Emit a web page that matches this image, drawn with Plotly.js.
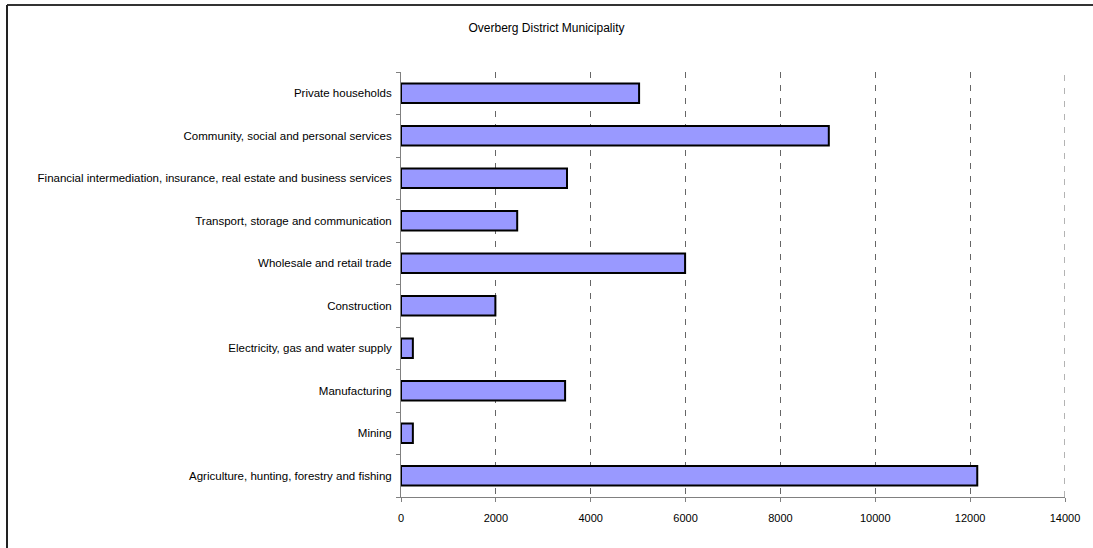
<!DOCTYPE html>
<html>
<head>
<meta charset="utf-8">
<script src="https://cdn.plot.ly/plotly-3.0.1.min.js"></script>
<style>html,body{margin:0;padding:0;background:#fff;}#chart{width:1093px;height:548px;}</style>
</head>
<body>
<div id="chart"></div>
<script>
const categories = [
  "Agriculture, hunting, forestry and fishing",
  "Mining",
  "Manufacturing",
  "Electricity, gas and water supply",
  "Construction",
  "Wholesale and retail trade",
  "Transport, storage and communication",
  "Financial intermediation, insurance, real estate and business services",
  "Community, social and personal services",
  "Private households"
];
const values = [12150, 250, 3460, 250, 1990, 5990, 2450, 3500, 9020, 5020];
const xTicks = [0, 2000, 4000, 6000, 8000, 10000, 12000, 14000];
const chartTitle = "Overberg District Municipality";

const fam = "'Liberation Sans', Arial, sans-serif";

const trace = {
  type: "bar",
  orientation: "h",
  y: categories,
  x: values,
  width: 0.46,
  marker: {color: "#9999FF", line: {color: "#000", width: 2}},
  hoverinfo: "x+y"
};

const L = 401, R = 28, T = 72, B = 51, W = 1093, H = 548;
const pw = W - L - R, ph = H - T - B;
const px = v => (v - L) / pw;
const py = v => (H - B - v) / ph;
const xMax = xTicks[xTicks.length - 1];

const layout = {
  width: W, height: H,
  margin: {l: L, r: R, t: T, b: B, pad: 0},
  paper_bgcolor: "#fff", plot_bgcolor: "#fff",
  font: {family: fam, size: 11, color: "#000"},
  showlegend: false,
  title: {text: chartTitle, x: 0.5, xref: "container", xanchor: "center",
          y: 1 - 28 / H, yref: "container", yanchor: "middle",
          font: {family: fam, size: 12, color: "#000"}},
  xaxis: {
    range: [0, xMax], tickvals: xTicks, ticktext: xTicks.map(String),
    showgrid: true, gridcolor: "#666", griddash: "6px,7px", gridwidth: 1,
    zeroline: false, showline: true, linecolor: "#808080", linewidth: 1,
    ticks: "outside", ticklen: 4, tickcolor: "#808080",
    tickfont: {family: fam, size: 11, color: "#000"}, ticklabelstandoff: 7,
    fixedrange: true
  },
  yaxis: {
    type: "category", categoryorder: "array", categoryarray: categories,
    showgrid: false, zeroline: false, showline: true, linecolor: "#808080", linewidth: 1,
    ticks: "outside", ticklen: 4, tickcolor: "#808080", tickson: "boundaries",
    tickfont: {family: fam, size: 11.5, color: "#000"}, ticklabelstandoff: 6,
    fixedrange: true
  },
  shapes: [
    {type: "line", xref: "x", yref: "paper", x0: xMax, x1: xMax, y0: 0, y1: 1,
     line: {color: "#666", width: 1, dash: "6px,7px"}},
    {type: "line", xref: "paper", yref: "paper", x0: px(7), x1: px(1093), y0: py(5), y1: py(5),
     line: {color: "#333", width: 2}},
    {type: "line", xref: "paper", yref: "paper", x0: px(7), x1: px(7), y0: py(5), y1: py(548),
     line: {color: "#222", width: 2}}
  ]
};

Plotly.newPlot("chart", [trace], layout, {displayModeBar: false, staticPlot: true});
</script>
</body>
</html>
